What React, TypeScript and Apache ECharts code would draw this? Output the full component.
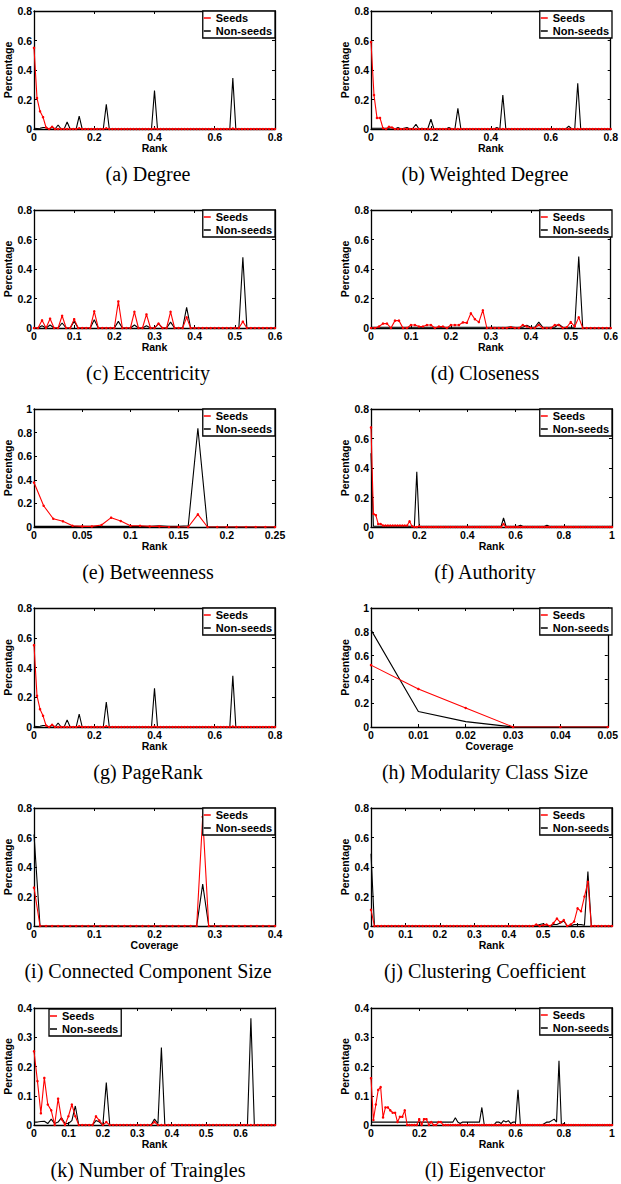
import React, { useEffect, useRef } from "react";
import * as echarts from "echarts";

// ---------- DATA ----------
const degreeSeeds = [
  0.55, 0.21, 0.12, 0.08, 0.01, 0, 0.015, 0, 0, 0,
  0, 0, 0, 0, 0, 0.005, 0, 0, 0, 0,
  0, 0, 0, 0, 0.005, 0, 0, 0, 0, 0,
  0, 0, 0, 0, 0, 0, 0, 0, 0, 0,
  0.003, 0, 0, 0, 0, 0, 0, 0, 0, 0,
  0, 0, 0, 0, 0, 0, 0, 0, 0, 0,
  0, 0, 0, 0, 0, 0, 0.003, 0, 0, 0,
  0, 0, 0, 0, 0, 0, 0, 0, 0, 0,
  0,
];
const degreeNonSeeds = [
  0.005, 0.003, 0.005, 0.01, 0.01, 0, 0.012, 0, 0.027, 0,
  0, 0.048, 0, 0, 0, 0.087, 0, 0, 0, 0,
  0, 0, 0, 0, 0.167, 0, 0, 0, 0, 0,
  0, 0, 0, 0, 0, 0, 0, 0, 0, 0,
  0.26, 0, 0, 0, 0, 0, 0, 0, 0, 0,
  0, 0, 0, 0, 0, 0, 0, 0, 0, 0,
  0, 0, 0, 0, 0, 0, 0.345, 0, 0, 0,
  0, 0, 0, 0, 0, 0, 0, 0, 0, 0,
  0,
];
const wDegreeSeeds = [
  0.59, 0.23, 0.075, 0.075, 0.005, 0, 0.015, 0.01, 0, 0,
  0, 0, 0, 0, 0, 0, 0, 0, 0, 0,
  0, 0, 0, 0, 0, 0, 0, 0, 0, 0,
  0, 0, 0, 0, 0, 0, 0, 0, 0, 0,
  0, 0, 0, 0, 0, 0, 0, 0, 0, 0,
  0, 0, 0, 0, 0, 0, 0, 0, 0, 0,
  0, 0, 0, 0, 0, 0, 0, 0, 0, 0,
  0, 0, 0, 0, 0, 0, 0, 0, 0, 0,
  0,
];
const wDegreeNonSeeds = [
  0.005, 0.005, 0.005, 0.005, 0.005, 0.005, 0.005, 0.01, 0, 0.01,
  0, 0.005, 0.01, 0, 0.005, 0.032, 0, 0.005, 0, 0.005,
  0.066, 0, 0, 0, 0, 0, 0.01, 0, 0, 0.14,
  0, 0, 0, 0, 0, 0, 0, 0, 0, 0,
  0, 0, 0.01, 0, 0.23, 0, 0, 0, 0, 0,
  0, 0, 0, 0, 0, 0, 0, 0, 0, 0,
  0, 0, 0, 0, 0, 0, 0.02, 0, 0, 0.31,
  0, 0, 0, 0, 0, 0, 0, 0, 0, 0,
  0,
];
const eccSeeds = [
  0, 0, 0.052, 0, 0.063, 0, 0, 0.083, 0, 0,
  0.06, 0, 0, 0, 0, 0.113, 0, 0, 0, 0,
  0, 0.18, 0, 0, 0, 0.11, 0, 0, 0.092, 0,
  0, 0.03, 0, 0, 0.11, 0, 0, 0, 0.072, 0,
  0, 0, 0, 0, 0, 0, 0, 0, 0, 0,
  0, 0, 0.043, 0, 0, 0, 0, 0, 0, 0,
  0,
];
const eccNonSeeds = [
  0, 0, 0.015, 0, 0.02, 0, 0, 0.034, 0, 0,
  0.045, 0, 0, 0, 0, 0.056, 0, 0, 0, 0,
  0, 0.045, 0, 0, 0, 0.02, 0, 0, 0.015, 0,
  0, 0.03, 0, 0, 0.04, 0, 0, 0, 0.14, 0,
  0, 0, 0, 0, 0, 0, 0, 0, 0, 0,
  0, 0, 0.48, 0, 0, 0, 0, 0, 0, 0,
  0,
];
const closeSeeds = [
  0, 0, 0.01, 0.03, 0.03, 0, 0.05, 0.05, 0, 0,
  0.02, 0.02, 0.01, 0.01, 0.02, 0.02, 0, 0.01, 0.01, 0,
  0.02, 0.02, 0.02, 0.038, 0.035, 0.1, 0.06, 0.04, 0.12, 0,
  0, 0, 0, 0, 0, 0.005, 0, 0, 0.02, 0.01,
  0, 0, 0.02, 0, 0, 0, 0.02, 0.02, 0, 0.005,
  0.04, 0.01, 0.072, 0, 0, 0, 0, 0, 0, 0,
  0,
];
const closeNonSeeds = [
  0.005, 0.005, 0.005, 0.005, 0.005, 0.005, 0.005, 0.005, 0.005, 0.005,
  0.005, 0.005, 0.005, 0.005, 0.005, 0.005, 0.005, 0.005, 0.005, 0.005,
  0.005, 0.005, 0.005, 0.005, 0.005, 0.005, 0.005, 0.005, 0.005, 0.005,
  0.005, 0.005, 0.005, 0.005, 0.005, 0.008, 0.005, 0.005, 0.005, 0.018,
  0.005, 0.005, 0.04, 0.005, 0.005, 0.005, 0.005, 0.025, 0.005, 0.005,
  0.005, 0.005, 0.484, 0, 0, 0, 0, 0, 0, 0,
  0,
];
const betwSeeds = [
  0.377, 0.18, 0.07, 0.048, 0.01, 0.005, 0.005, 0.017, 0.079, 0.05,
  0.01, 0.01, 0.005, 0.005, 0, 0, 0, 0.107, 0, 0,
  0, 0, 0, 0, 0, 0,
];
const betwNonSeeds = [
  0.005, 0.005, 0.005, 0.005, 0.005, 0.005, 0.005, 0.005, 0.005, 0.005,
  0.005, 0.005, 0.005, 0.01, 0.005, 0.005, 0.01, 0.837, 0, 0,
  0, 0, 0, 0, 0, 0,
];
const authSeeds = [
  0.675, 0.09, 0.08, 0.02, 0.02, 0.01, 0.01, 0.01, 0.01, 0.01,
  0.01, 0.01, 0.01, 0.01, 0.01, 0.01, 0.039, 0.005, 0, 0,
  0.005, 0, 0, 0, 0, 0, 0, 0, 0, 0,
  0, 0, 0, 0, 0, 0, 0, 0, 0, 0,
  0, 0, 0, 0, 0, 0, 0, 0, 0, 0,
  0, 0, 0, 0, 0, 0.02, 0, 0, 0, 0,
  0, 0, 0, 0, 0, 0, 0, 0, 0, 0,
  0, 0, 0, 0, 0, 0, 0, 0, 0, 0,
  0, 0, 0, 0, 0, 0, 0, 0, 0, 0,
  0, 0, 0, 0, 0, 0, 0, 0, 0, 0,
  0,
];
const authNonSeeds = [
  0.5, 0.005, 0.005, 0.005, 0.005, 0.005, 0.005, 0.005, 0.005, 0.005,
  0.005, 0.005, 0.005, 0.005, 0.005, 0.005, 0.005, 0.005, 0.005, 0.375,
  0.005, 0.005, 0.005, 0.005, 0.005, 0.005, 0.005, 0.005, 0.005, 0.005,
  0.005, 0.005, 0.005, 0.005, 0.005, 0.005, 0.005, 0.005, 0.005, 0.005,
  0.005, 0.005, 0.005, 0.005, 0.005, 0.005, 0.005, 0.005, 0.005, 0.005,
  0.005, 0.005, 0.005, 0.005, 0.005, 0.061, 0.005, 0.005, 0.005, 0.005,
  0.005, 0.005, 0.012, 0.005, 0.005, 0.005, 0.005, 0.005, 0.005, 0.005,
  0.005, 0.005, 0.005, 0.012, 0.005, 0.005, 0.005, 0.005, 0.005, 0.005,
  0.005, 0.005, 0.005, 0.005, 0.005, 0.005, 0.005, 0.005, 0.005, 0.005,
  0.005, 0.005, 0.005, 0.005, 0.005, 0.005, 0.005, 0.005, 0.005, 0.005,
  0.005,
];
const pageSeeds = [
  0.55, 0.21, 0.12, 0.075, 0.01, 0, 0.015, 0, 0, 0,
  0, 0, 0, 0, 0, 0.005, 0, 0, 0, 0,
  0, 0, 0, 0, 0.005, 0, 0, 0, 0, 0,
  0, 0, 0, 0, 0, 0, 0, 0, 0, 0,
  0.003, 0, 0, 0, 0, 0, 0, 0, 0, 0,
  0, 0, 0, 0, 0, 0, 0, 0, 0, 0,
  0, 0, 0, 0, 0, 0, 0.003, 0, 0, 0,
  0, 0, 0, 0, 0, 0, 0, 0, 0, 0,
  0,
];
const pageNonSeeds = [
  0.005, 0.003, 0.005, 0.01, 0.01, 0, 0.012, 0, 0.027, 0,
  0, 0.048, 0, 0, 0, 0.087, 0, 0, 0, 0,
  0, 0, 0, 0, 0.167, 0, 0, 0, 0, 0,
  0, 0, 0, 0, 0, 0, 0, 0, 0, 0,
  0.26, 0, 0, 0, 0, 0, 0, 0, 0, 0,
  0, 0, 0, 0, 0, 0, 0, 0, 0, 0,
  0, 0, 0, 0, 0, 0, 0.345, 0, 0, 0,
  0, 0, 0, 0, 0, 0, 0, 0, 0, 0,
  0,
];
const modSeeds = [0.52, 0.32, 0.16, 0, 0, 0];
const modNonSeeds = [0.816, 0.13, 0.045, 0, 0, 0];
const compSeeds = [
  0.26, 0, 0, 0, 0, 0, 0, 0, 0, 0,
  0, 0, 0, 0, 0, 0, 0, 0, 0, 0,
  0, 0, 0, 0, 0, 0, 0, 0, 0.74, 0,
  0, 0, 0, 0, 0, 0, 0, 0, 0, 0,
  0,
];
const compNonSeeds = [
  0.62, 0, 0, 0, 0, 0, 0, 0, 0, 0,
  0, 0, 0, 0, 0, 0, 0, 0, 0, 0,
  0, 0, 0, 0, 0, 0, 0, 0, 0.284, 0,
  0, 0, 0, 0, 0, 0, 0, 0, 0, 0,
  0,
];
const clustSeeds = [
  0.11, 0, 0, 0, 0, 0, 0, 0, 0, 0,
  0, 0, 0, 0, 0, 0, 0, 0, 0, 0,
  0, 0, 0, 0, 0, 0, 0, 0, 0, 0,
  0, 0, 0, 0, 0, 0, 0, 0, 0, 0,
  0, 0, 0, 0, 0, 0, 0, 0, 0.01, 0,
  0.005, 0.01, 0, 0.02, 0.05, 0.025, 0.04, 0, 0.01, 0.03,
  0.12, 0.1, 0.2, 0.3, 0, 0, 0, 0, 0, 0,
  0,
];
const clustNonSeeds = [
  0.49, 0, 0, 0, 0, 0, 0, 0, 0, 0,
  0, 0, 0, 0, 0, 0, 0, 0, 0, 0,
  0, 0, 0, 0, 0, 0, 0, 0, 0, 0,
  0, 0, 0, 0, 0, 0, 0, 0, 0, 0,
  0, 0, 0, 0, 0, 0, 0, 0, 0, 0.01,
  0.015, 0.005, 0, 0.01, 0.01, 0.02, 0.034, 0, 0, 0.01,
  0.01, 0.01, 0.005, 0.37, 0, 0, 0, 0, 0, 0,
  0,
];
const triSeeds = [
  0.252, 0.15, 0.04, 0.161, 0.07, 0.05, 0, 0.09, 0.02, 0,
  0.03, 0.07, 0.03, 0, 0, 0, 0, 0, 0.03, 0.015,
  0, 0.01, 0, 0, 0, 0, 0, 0, 0, 0,
  0, 0, 0, 0, 0, 0.01, 0, 0, 0, 0,
  0, 0, 0, 0, 0, 0, 0, 0, 0, 0,
  0, 0, 0, 0, 0, 0, 0, 0, 0, 0,
  0, 0, 0, 0, 0, 0, 0, 0, 0, 0,
  0,
];
const triNonSeeds = [
  0.01, 0.01, 0.012, 0.013, 0.005, 0.02, 0.005, 0.01, 0.025, 0.005,
  0.005, 0.015, 0.065, 0, 0, 0, 0, 0, 0.015, 0.01,
  0, 0.145, 0, 0, 0, 0, 0, 0, 0, 0,
  0, 0, 0, 0, 0, 0.02, 0.005, 0.265, 0, 0,
  0, 0, 0, 0, 0, 0, 0, 0, 0, 0,
  0, 0, 0, 0, 0, 0, 0, 0, 0, 0,
  0, 0, 0, 0.365, 0, 0, 0, 0, 0, 0,
  0,
];
const eigSeeds = [
  0.16, 0.017, 0.07, 0.12, 0.13, 0.026, 0.06, 0.06, 0.05, 0.042,
  0.042, 0.01, 0.028, 0.028, 0.05, 0, 0, 0, 0, 0,
  0.02, 0, 0.02, 0.02, 0, 0.01, 0, 0, 0.01, 0.01,
  0, 0, 0, 0, 0, 0, 0, 0, 0, 0,
  0, 0, 0, 0, 0, 0, 0, 0, 0, 0,
  0, 0, 0, 0, 0, 0, 0, 0, 0, 0,
  0, 0, 0, 0, 0, 0, 0, 0, 0, 0,
  0, 0, 0, 0, 0, 0, 0, 0, 0, 0,
  0, 0, 0, 0, 0, 0, 0, 0, 0, 0,
  0, 0, 0, 0, 0, 0, 0, 0, 0, 0,
  0,
];
const eigNonSeeds = [
  0.01, 0.01, 0.01, 0.01, 0.01, 0.01, 0.01, 0.01, 0.01, 0.01,
  0.01, 0.01, 0.01, 0.01, 0.01, 0.01, 0.01, 0.01, 0.01, 0.01,
  0.01, 0.01, 0.01, 0.01, 0.01, 0.01, 0.01, 0.01, 0.01, 0.01,
  0.01, 0.01, 0.01, 0.01, 0.01, 0.025, 0.01, 0.005, 0.01, 0.01,
  0.01, 0.01, 0.01, 0.01, 0.01, 0.01, 0.06, 0, 0, 0,
  0, 0, 0.01, 0.01, 0.005, 0.015, 0.01, 0.015, 0.005, 0.01,
  0.01, 0.12, 0, 0, 0, 0, 0, 0, 0, 0,
  0, 0, 0.005, 0.01, 0.01, 0.015, 0.02, 0.01, 0.22, 0,
  0.005, 0, 0, 0, 0, 0, 0, 0, 0, 0,
  0, 0, 0, 0, 0, 0, 0, 0, 0, 0,
  0,
];

const captions = [
  "(a) Degree", "(b) Weighted Degree", "(c) Eccentricity", "(d) Closeness",
  "(e) Betweenness", "(f) Authority", "(g) PageRank", "(h) Modularity Class Size",
  "(i) Connected Component Size", "(j) Clustering Coefficient",
  "(k) Number of Traingles", "(l) Eigenvector",
];
const xNames = ["Rank", "Rank", "Rank", "Rank", "Rank", "Rank", "Rank", "Coverage", "Coverage", "Rank", "Rank", "Rank"];
const xMaxes = [0.8, 0.8, 0.6, 0.6, 0.25, 1, 0.8, 0.05, 0.4, 0.7, 0.7, 1];
const xIntervals = [0.2, 0.2, 0.1, 0.1, 0.05, 0.2, 0.2, 0.01, 0.1, 0.1, 0.1, 0.2];
const yMaxes = [0.8, 0.8, 0.8, 0.8, 1, 0.8, 0.8, 1, 0.8, 0.8, 0.4, 0.4];
const yIntervals = [0.2, 0.2, 0.2, 0.2, 0.2, 0.2, 0.2, 0.2, 0.2, 0.2, 0.1, 0.1];
const binSteps = [0.01, 0.01, 0.01, 0.01, 0.01, 0.01, 0.01, 0.01, 0.01, 0.01, 0.01, 0.01];
const seedsData = [degreeSeeds, wDegreeSeeds, eccSeeds, closeSeeds, betwSeeds, authSeeds, pageSeeds, modSeeds, compSeeds, clustSeeds, triSeeds, eigSeeds];
const nonSeedsData = [degreeNonSeeds, wDegreeNonSeeds, eccNonSeeds, closeNonSeeds, betwNonSeeds, authNonSeeds, pageNonSeeds, modNonSeeds, compNonSeeds, clustNonSeeds, triNonSeeds, eigNonSeeds];

// ---------- LAYOUT ----------
const W = 621;
const H = 1184;
const colLeft = [34, 371];
const plotW = 241;
const rowTop = [11, 210, 409, 608, 808, 1008];
const rowH = [118, 118, 118, 119, 118, 117];
const captionX = [148, 485];
const SANS = "'Liberation Sans', Arial, Helvetica, sans-serif";
const SERIF = "'Liberation Serif', 'Times New Roman', serif";

function buildOption() {
  const grid: any[] = [];
  const xAxis: any[] = [];
  const yAxis: any[] = [];
  const series: any[] = [];
  const legend: any[] = [];
  const title: any[] = [];
  const axisText = { fontFamily: SANS, fontWeight: "bold", fontSize: 10.5, color: "#000" };
  for (let k = 0; k < 12; k++) {
    const col = k % 2;
    const row = Math.floor(k / 2);
    const left = colLeft[col];
    const top = rowTop[row];
    const h = rowH[row];
    grid.push({ left, top, width: plotW, height: h, containLabel: false });
    const lineStyle = { color: "#000", width: 1.3 };
    const tick = { show: true, inside: true, length: 3, lineStyle: { color: "#000", width: 1 } };
    const hideMax = xMaxes[k] === 0.7;
    xAxis.push({
      gridIndex: k, type: "value", position: "bottom", min: 0, max: xMaxes[k], interval: xIntervals[k],
      name: xNames[k], nameLocation: "middle", nameGap: 11, nameTextStyle: axisText,
      axisLine: { show: true, onZero: false, lineStyle }, axisTick: tick,
      axisLabel: { ...axisText, margin: 2, showMaxLabel: !hideMax, showMinLabel: true },
      splitLine: { show: false },
    });
    xAxis.push({
      gridIndex: k, type: "value", position: "top", min: 0, max: xMaxes[k], interval: xIntervals[k],
      axisLine: { show: true, onZero: false, lineStyle }, axisTick: tick,
      axisLabel: { show: false }, splitLine: { show: false },
    });
    yAxis.push({
      gridIndex: k, type: "value", position: "left", min: 0, max: yMaxes[k], interval: yIntervals[k],
      name: "Percentage", nameLocation: "middle", nameGap: 13, nameTextStyle: axisText,
      axisLine: { show: true, onZero: false, lineStyle }, axisTick: tick,
      axisLabel: { ...axisText, margin: 2 }, splitLine: { show: false },
    });
    yAxis.push({
      gridIndex: k, type: "value", position: "right", min: 0, max: yMaxes[k], interval: yIntervals[k],
      axisLine: { show: true, onZero: false, lineStyle }, axisTick: tick,
      axisLabel: { show: false }, splitLine: { show: false },
    });
    const step = binSteps[k];
    const toPts = (arr: number[]) => arr.map((v, i) => [Math.round(i * step * 10000) / 10000, v]);
    series.push({
      type: "line", name: "Non-seeds", xAxisIndex: 2 * k, yAxisIndex: 2 * k,
      data: toPts(nonSeedsData[k]), showSymbol: false, symbol: "none",
      lineStyle: { color: "#000", width: 1.1 }, itemStyle: { color: "#000" }, z: 2,
    });
    series.push({
      type: "line", name: "Seeds", xAxisIndex: 2 * k, yAxisIndex: 2 * k,
      data: toPts(seedsData[k]), showSymbol: true, symbol: "circle", symbolSize: 2.5,
      lineStyle: { color: "#ff0000", width: 1.1 }, itemStyle: { color: "#ff0000" }, z: 3,
    });
    const legendPos: any = k === 10 ? { left: 49, top: top + 1 } : { right: W - (left + plotW), top: top };
    legend.push({
      ...legendPos, orient: "vertical",
      data: [
        { name: "Seeds", icon: "rect", itemStyle: { color: "#ff0000" } },
        { name: "Non-seeds", icon: "rect", itemStyle: { color: "#000" } },
      ],
      itemWidth: 7, itemHeight: 1.5, itemGap: 1, padding: [1, 3, 1, 1],
      borderColor: "#000", borderWidth: 1.3, backgroundColor: "#fff", selectedMode: false,
      textStyle: { fontFamily: SANS, fontWeight: "bold", fontSize: 11, color: "#000", lineHeight: 12 },
    });
    title.push({
      text: captions[k], left: captionX[col], top: top + h + 35, textAlign: "center", padding: 0,
      textStyle: { fontFamily: SERIF, fontWeight: "normal", fontSize: 20, color: "#000" },
    });
  }
  return { animation: false, backgroundColor: "#fff", grid, xAxis, yAxis, series, legend, title };
}

export default function App() {
  const ref = useRef<HTMLDivElement>(null);
  useEffect(() => {
    if (!ref.current) return;
    const chart = echarts.init(ref.current, undefined, { renderer: "svg", width: W, height: H });
    chart.setOption(buildOption());
    return () => chart.dispose();
  }, []);
  return (
    <div
      ref={ref}
      style={{ position: "absolute", left: 0, top: 0, width: W, height: H, background: "#fff" }}
    />
  );
}
